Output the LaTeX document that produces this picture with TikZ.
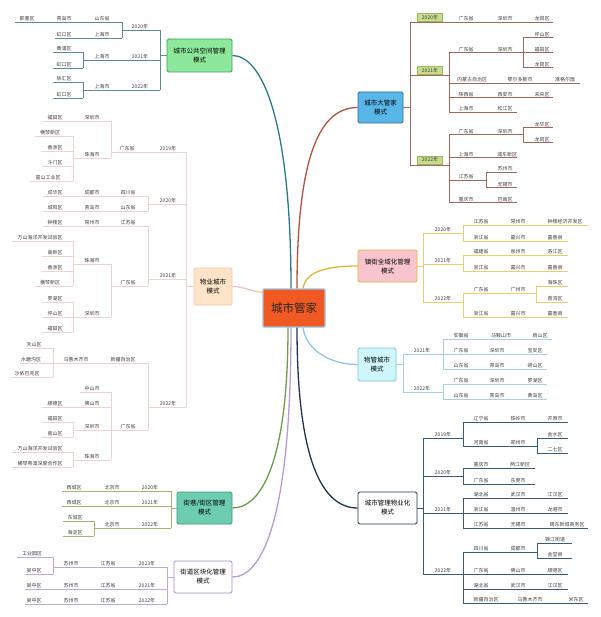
\documentclass[tikz,border=0pt]{standalone}
\usepackage{fontspec}
\usepackage{xcolor}
\usepackage{tikz}
\newfontfamily\cjk{Noto Sans CJK SC}

\definecolor{hubfill}{HTML}{F05A22}
\definecolor{hubline}{HTML}{9CC3E6}
\definecolor{gkfill}{HTML}{8DE89B}
\definecolor{gkline}{HTML}{3FA060}
\definecolor{wyfill}{HTML}{FDE3C7}
\definecolor{wyline}{HTML}{F2C9A5}
\definecolor{jxfill}{HTML}{6CCDB0}
\definecolor{jxline}{HTML}{3D9A7A}
\definecolor{jdline}{HTML}{A98BCB}
\definecolor{dgfill}{HTML}{58B6E8}
\definecolor{dgline}{HTML}{2E6E9E}
\definecolor{zjfill}{HTML}{F8C5CF}
\definecolor{zjline}{HTML}{E2B536}
\definecolor{wgfill}{HTML}{CFF6FA}
\definecolor{wgline}{HTML}{7EC4D6}
\definecolor{whline}{HTML}{1E3550}
\definecolor{yrfill}{HTML}{C8DC8C}
\definecolor{yrline}{HTML}{9DB865}
\definecolor{gkcurve}{HTML}{2B7A8A}
\definecolor{dgcurve}{HTML}{B0533F}
\definecolor{wgcurve}{HTML}{8EC6E8}
\definecolor{jxcurve}{HTML}{6A9F45}
\definecolor{wycurve}{HTML}{F2C4C0}
\definecolor{gkbranch}{HTML}{5B8A90}
\definecolor{wybranch}{HTML}{EDD2D2}
\definecolor{jxbranch}{HTML}{9BB86F}
\definecolor{jdbranch}{HTML}{BEA8D8}
\definecolor{dgbranch}{HTML}{9C6A5C}
\definecolor{zjbranch}{HTML}{E8D070}
\definecolor{wgbranch}{HTML}{A6CFE2}
\definecolor{whbranch}{HTML}{3B5A73}

\tikzset{
  lbl/.style={font=\cjk\fontsize{5}{6}\selectfont, text=black!75, anchor=south, inner sep=0.6pt},
  mode/.style={font=\cjk\fontsize{6.5}{9}\selectfont, align=center, rounded corners=1.5pt, line width=0.8pt, inner sep=1pt},
  yr/.style={lbl, anchor=center, fill=yrfill, draw=yrline, line width=0.3pt, minimum width=25pt, minimum height=8pt},
  hubbox/.style={font=\cjk\fontsize{11.5}{13}\selectfont, text=black!85, fill=hubfill, draw=hubline, line width=1.2pt, rounded corners=1pt, minimum width=62pt, minimum height=38pt},
  main/.style={line width=1.3pt},
  bGK/.style={draw=gkbranch, line width=0.6pt},
  bWY/.style={draw=wybranch, line width=0.6pt},
  bJX/.style={draw=jxbranch, line width=0.6pt},
  bJD/.style={draw=jdbranch, line width=0.6pt},
  bDG/.style={draw=dgbranch, line width=0.6pt},
  bZJ/.style={draw=zjbranch, line width=0.6pt},
  bWG/.style={draw=wgbranch, line width=0.6pt},
  bWH/.style={draw=whbranch, line width=0.6pt},
}

% one underlined row: name, style, y, x from, x to, texts
\newcommand{\trow}[6]{%
  \draw[#2] (#4,#3) -- (#5,#3);
  \foreach \t/\x [count=\i] in {#6} \node[lbl] (#1-\i) at (\x,#3) {\t};
}

\begin{document}
\begin{tikzpicture}[x=1pt, y=-1pt]

    \useasboundingbox (0,0) rectangle (600,617);
    \fill[white] (0,0) rectangle (600,617);

    % Centre and the eight modes
    \node[hubbox] (hub) at (294,308) {城市管家};
    \node[mode, fill=gkfill, draw=gkline, minimum width=65pt, minimum height=33pt] (gk) at (199.5,55.5) {城市公共空间管理\\模式};
    \node[mode, fill=wyfill, draw=wyline, minimum width=38pt, minimum height=37pt] (wy) at (213,286.5) {物业城市\\模式};
    \node[mode, fill=jxfill, draw=jxline, minimum width=55pt, minimum height=32pt] (jx) at (204.5,508) {街巷/街区管理\\模式};
    \node[mode, fill=white, draw=jdline, minimum width=58pt, minimum height=32pt] (jd) at (203,577) {街道区块化管理\\模式};
    \node[mode, fill=dgfill, draw=dgline, minimum width=45pt, minimum height=31pt] (dg) at (380.5,107.5) {城市大管家\\模式};
    \node[mode, fill=zjfill, draw=zjline, minimum width=59pt, minimum height=32pt] (zj) at (387.5,266) {镇街全域化管理\\模式};
    \node[mode, fill=wgfill, draw=wgline, minimum width=38pt, minimum height=33pt] (wg) at (377,364.5) {物管城市\\模式};
    \node[mode, fill=white, draw=whline, minimum width=59pt, minimum height=32pt] (wh) at (387.5,508) {城市管理物业化\\模式};

    % Curves from the centre
    \draw[main, gkcurve] ([xshift=-3pt]hub.north) .. controls (291,120) and (262,55.5) .. (gk.east);
    \draw[main, dgcurve] ([xshift=3pt]hub.north) .. controls (297,150) and (322,107.5) .. (dg.west);
    \draw[main, zjline] ([xshift=9pt]hub.north) .. controls (306,270) and (330,266) .. (zj.west);
    \draw[main, wgcurve] ([xshift=9pt]hub.south) .. controls (306,350) and (330,364.5) .. (wg.west);
    \draw[main, whline] ([xshift=3pt]hub.south) .. controls (297,460) and (322,508) .. (wh.west);
    \draw[main, jxcurve] ([xshift=-6pt]hub.south) .. controls (288,460) and (262,508) .. (jx.east);
    \draw[main, jdline!85!white] ([xshift=-3pt]hub.south) .. controls (291,520) and (262,577) .. (jd.east);
    \draw[main, wycurve] ([yshift=-4pt]hub.north west) to[out=175, in=0] (wy.east);

    % 城市公共空间管理模式
    \draw[bGK] (gk.west) -- (160,55.5);
    \draw[bGK] (160,30) -- (160,90);
    \trow{gk20}{bGK}{30}{160}{122}{2020年/140}
    \draw[bGK] (122,22) -- (122,38);
    \trow{gk20a}{bGK}{22}{122}{15}{山东省/102,青岛市/64,即墨区/27}
    \trow{gk20b}{bGK}{38}{122}{55}{上海市/102,虹口区/64}
    \trow{gk21}{bGK}{60}{160}{83}{2021年/140,上海市/102}
    \draw[bGK] (83,52) -- (83,68);
    \trow{gk21a}{bGK}{52}{83}{53}{黄浦区/64}
    \trow{gk21b}{bGK}{68}{83}{53}{虹口区/64}
    \trow{gk22}{bGK}{90}{160}{83}{2022年/140,上海市/102}
    \draw[bGK] (83,82) -- (83,98);
    \trow{gk22a}{bGK}{82}{83}{53}{徐汇区/64}
    \trow{gk22b}{bGK}{98}{83}{53}{虹口区/64}

    % 物业城市模式
    \draw[bWY] (wy.west) -- (186,286.5);
    \draw[bWY] (186,152) -- (186,407);
    \trow{wy19}{bWY}{152}{186}{111}{2019年/168,广东省/127}
    \draw[bWY] (111,121) -- (111,158);
    \trow{wy19a}{bWY}{121}{111}{42}{深圳市/92,福田区/55}
    \trow{wy19b}{bWY}{158}{111}{73}{珠海市/92}
    \draw[bWY] (73,136) -- (73,181);
    \trow{wy19c}{bWY}{136}{73}{35}{横琴新区/50}
    \trow{wy19d}{bWY}{151}{73}{42}{香洲区/55}
    \trow{wy19e}{bWY}{166}{73}{42}{斗门区/55}
    \trow{wy19f}{bWY}{181}{73}{30}{富山工业区/48}
    \trow{wy20}{bWY}{204}{186}{148}{2020年/168}
    \draw[bWY] (148,196) -- (148,211);
    \trow{wy20a}{bWY}{196}{148}{43}{四川省/128,成都市/92,成华区/55}
    \trow{wy20b}{bWY}{211}{148}{43}{山东省/128,青岛市/92,城阳区/55}
    \trow{wy21}{bWY}{279}{186}{148}{2021年/168}
    \draw[bWY] (148,226) -- (148,286);
    \trow{wy21a}{bWY}{226}{148}{43}{江苏省/128,常州市/92,钟楼区/55}
    \trow{wy21b}{bWY}{286}{148}{111}{广东省/128}
    \draw[bWY] (111,264) -- (111,317);
    \trow{wy21c}{bWY}{264}{111}{73}{珠海市/92}
    \draw[bWY] (73,241) -- (73,286);
    \trow{wy21d}{bWY}{241}{73}{12}{万山海洋开发试验区/40}
    \trow{wy21e}{bWY}{256}{73}{42}{高新区/55}
    \trow{wy21f}{bWY}{271}{73}{42}{香洲区/55}
    \trow{wy21g}{bWY}{286}{73}{35}{横琴新区/50}
    \trow{wy21h}{bWY}{317}{111}{73}{深圳市/92}
    \draw[bWY] (73,302) -- (73,332);
    \trow{wy21i}{bWY}{302}{73}{42}{罗湖区/55}
    \trow{wy21j}{bWY}{317}{73}{42}{坪山区/55}
    \trow{wy21k}{bWY}{332}{73}{42}{福田区/55}
    \trow{wy22}{bWY}{407}{186}{148}{2022年/168}
    \draw[bWY] (148,363) -- (148,430);
    \trow{wy22a}{bWY}{363}{148}{53}{新疆自治区/123,乌鲁木齐市/76}
    \draw[bWY] (53,348) -- (53,377);
    \trow{wy22b}{bWY}{348}{53}{25}{天山区/34}
    \trow{wy22c}{bWY}{363}{53}{20}{水磨沟区/31}
    \trow{wy22d}{bWY}{377}{53}{10}{沙依巴克区/27}
    \trow{wy22e}{bWY}{430}{148}{111}{广东省/128}
    \draw[bWY] (111,392) -- (111,460);
    \trow{wy22f}{bWY}{392}{111}{80}{中山市/92}
    \trow{wy22g}{bWY}{407}{111}{42}{佛山市/92,顺德区/55}
    \trow{wy22h}{bWY}{430}{111}{73}{深圳市/92}
    \draw[bWY] (73,422) -- (73,437);
    \trow{wy22i}{bWY}{422}{73}{42}{福田区/55}
    \trow{wy22j}{bWY}{437}{73}{42}{南山区/55}
    \trow{wy22k}{bWY}{460}{111}{73}{珠海市/92}
    \draw[bWY] (73,452) -- (73,467);
    \trow{wy22l}{bWY}{452}{73}{12}{万山海洋开发试验区/40}
    \trow{wy22m}{bWY}{467}{73}{12}{横琴粤澳深度合作区/40}

    % 街巷/街区管理模式
    \draw[bJX] (jx.west) -- (171,508);
    \draw[bJX] (171,491) -- (171,528);
    \trow{jx20}{bJX}{491}{171}{62}{2020年/150,北京市/112,西城区/74}
    \trow{jx21}{bJX}{506}{171}{62}{2021年/150,北京市/112,西城区/74}
    \trow{jx22}{bJX}{528}{171}{94}{2022年/150,北京市/112}
    \draw[bJX] (94,521) -- (94,536);
    \trow{jx22a}{bJX}{521}{94}{63}{东城区/75}
    \trow{jx22b}{bJX}{536}{94}{63}{海淀区/75}

    % 街道区块化管理模式
    \draw[bJD] (jd.west) -- (167,577);
    \draw[bJD] (167,567) -- (167,604);
    \trow{jd23}{bJD}{567}{167}{53}{2023年/147,江苏省/108,苏州市/71}
    \draw[bJD] (53,557) -- (53,574);
    \trow{jd23a}{bJD}{557}{53}{17}{工业园区/32}
    \trow{jd23b}{bJD}{574}{53}{25}{吴中区/34}
    \trow{jd21}{bJD}{589}{167}{25}{2021年/147,江苏省/108,苏州市/71,吴中区/34}
    \trow{jd22}{bJD}{604}{167}{25}{2022年/147,江苏省/108,苏州市/71,吴中区/34}

    % 城市大管家模式
    \draw[bDG] (dg.east) -- (410,107.5);
    \draw[bDG] (410,22) -- (410,165);
    \trow{dg20}{bDG}{22}{410}{553}{广东省/466,深圳市/505,龙岗区/542}
    \draw[bDG] (410,75) -- (449,75);
    \draw[bDG] (449,52.5) -- (449,112);
    \trow{dg21a}{bDG}{52.5}{449}{553}{广东省/466,深圳市/505,福田区/542}
    \draw[bDG] (523,37.5) -- (523,67.5);
    \trow{dg21b}{bDG}{37.5}{523}{553}{坪山区/542}
    \trow{dg21c}{bDG}{67.5}{523}{553}{龙岗区/542}
    \trow{dg21d}{bDG}{83}{449}{580}{内蒙古自治区/472,鄂尔多斯市/520,准格尔旗/565}
    \trow{dg21e}{bDG}{97.5}{449}{553}{陕西省/466,西安市/505,未央区/542}
    \trow{dg21f}{bDG}{112}{449}{517}{上海市/466,松江区/505}
    \draw[bDG] (410,165) -- (449,165);
    \draw[bDG] (449,134.5) -- (449,202.5);
    \trow{dg22a}{bDG}{134.5}{449}{523}{广东省/466,深圳市/505}
    \draw[bDG] (523,127.5) -- (523,142.5);
    \trow{dg22b}{bDG}{127.5}{523}{553}{龙华区/542}
    \trow{dg22c}{bDG}{142.5}{523}{553}{龙岗区/542}
    \trow{dg22d}{bDG}{157.5}{449}{517}{上海市/466,浦东新区/507}
    \trow{dg22e}{bDG}{180}{449}{486}{江苏省/466}
    \draw[bDG] (486,172) -- (486,187.5);
    \trow{dg22f}{bDG}{172}{486}{517}{苏州市/505}
    \trow{dg22g}{bDG}{187.5}{486}{517}{无锡市/505}
    \trow{dg22h}{bDG}{202.5}{449}{517}{重庆市/466,巴南区/505}
    \node[yr] (dg20y) at (430,17.5) {2020年};
    \node[yr] (dg21y) at (430,70.5) {2021年};
    \node[yr] (dg22y) at (430,160) {2022年};

    % 镇街全域化管理模式
    \draw[bZJ] (zj.east) -- (423,266);
    \draw[bZJ] (423,233) -- (423,302);
    \trow{zj20}{bZJ}{233}{423}{463}{2020年/443}
    \draw[bZJ] (463,225) -- (463,241);
    \trow{zj20a}{bZJ}{225}{463}{588}{江苏省/481,常州市/518,钟楼经济开发区/565}
    \trow{zj20b}{bZJ}{241}{463}{568}{浙江省/481,嘉兴市/518,嘉善县/555}
    \trow{zj21}{bZJ}{264}{423}{463}{2021年/443}
    \draw[bZJ] (463,255) -- (463,271);
    \trow{zj21a}{bZJ}{255}{463}{568}{福建省/481,泉州市/518,洛江区/555}
    \trow{zj21b}{bZJ}{271}{463}{568}{浙江省/481,嘉兴市/518,嘉善县/555}
    \trow{zj22}{bZJ}{302}{423}{463}{2022年/443}
    \draw[bZJ] (463,293) -- (463,317);
    \trow{zj22a}{bZJ}{293}{463}{536}{广东省/481,广州市/518}
    \draw[bZJ] (536,286) -- (536,302);
    \trow{zj22b}{bZJ}{286}{536}{568}{海珠区/555}
    \trow{zj22c}{bZJ}{302}{536}{568}{荔湾区/555}
    \trow{zj22d}{bZJ}{317}{463}{568}{浙江省/481,嘉兴市/518,嘉善县/555}

    % 物管城市模式
    \draw[bWG] (wg.east) -- (403,364.5);
    \draw[bWG] (403,354) -- (403,392);
    \trow{wg21}{bWG}{354}{403}{547}{2021年/422,广东省/461,深圳市/497,宝安区/535}
    \draw[bWG] (443,339) -- (443,369);
    \trow{wg21a}{bWG}{339}{443}{552}{安徽省/461,马鞍山市/501,雨山区/540}
    \trow{wg21b}{bWG}{369}{443}{547}{山东省/461,青岛市/497,崂山区/535}
    \trow{wg22}{bWG}{392}{403}{443}{2022年/422}
    \draw[bWG] (443,384) -- (443,399);
    \trow{wg22a}{bWG}{384}{443}{547}{广东省/461,深圳市/497,罗湖区/535}
    \trow{wg22b}{bWG}{399}{443}{547}{山东省/461,青岛市/497,黄岛区/535}

    % 城市管理物业化模式
    \draw[bWH] (wh.east) -- (423,508);
    \draw[bWH] (423,438) -- (423,574);
    \trow{wh19}{bWH}{438}{423}{463}{2019年/443}
    \draw[bWH] (463,422) -- (463,446);
    \trow{wh19a}{bWH}{422}{463}{568}{辽宁省/481,铁岭市/518,开原市/555}
    \trow{wh19b}{bWH}{446}{463}{537}{河南省/481,郑州市/518}
    \draw[bWH] (537,438) -- (537,453);
    \trow{wh19c}{bWH}{438}{537}{568}{金水区/555}
    \trow{wh19d}{bWH}{453}{537}{568}{二七区/555}
    \trow{wh20}{bWH}{476}{423}{463}{2020年/443}
    \draw[bWH] (463,468) -- (463,484);
    \trow{wh20a}{bWH}{468}{463}{535}{重庆市/481,两江新区/520}
    \trow{wh20b}{bWH}{484}{463}{535}{广东省/481,东莞市/518}
    \trow{wh21}{bWH}{513}{423}{568}{2021年/443,浙江省/481,温州市/518,龙港市/555}
    \draw[bWH] (463,498) -- (463,528);
    \trow{wh21a}{bWH}{498}{463}{568}{湖北省/481,武汉市/518,江汉区/555}
    \trow{wh21b}{bWH}{528}{463}{588}{江苏省/481,无锡市/518,锡东新城商务区/567}
    \trow{wh22}{bWH}{574}{423}{568}{2022年/443,广东省/481,佛山市/518,顺德区/555}
    \draw[bWH] (463,552) -- (463,603);
    \trow{wh22a}{bWH}{552}{463}{537}{四川省/481,成都市/518}
    \draw[bWH] (537,543) -- (537,558);
    \trow{wh22b}{bWH}{543}{537}{572}{锦江街道/555}
    \trow{wh22c}{bWH}{558}{537}{572}{金堂县/555}
    \trow{wh22d}{bWH}{589}{463}{568}{湖北省/481,武汉市/518,江汉区/555}
    \trow{wh22e}{bWH}{603}{463}{588}{新疆自治区/486,乌鲁木齐市/530,米东区/576}

\end{tikzpicture}
\end{document}
